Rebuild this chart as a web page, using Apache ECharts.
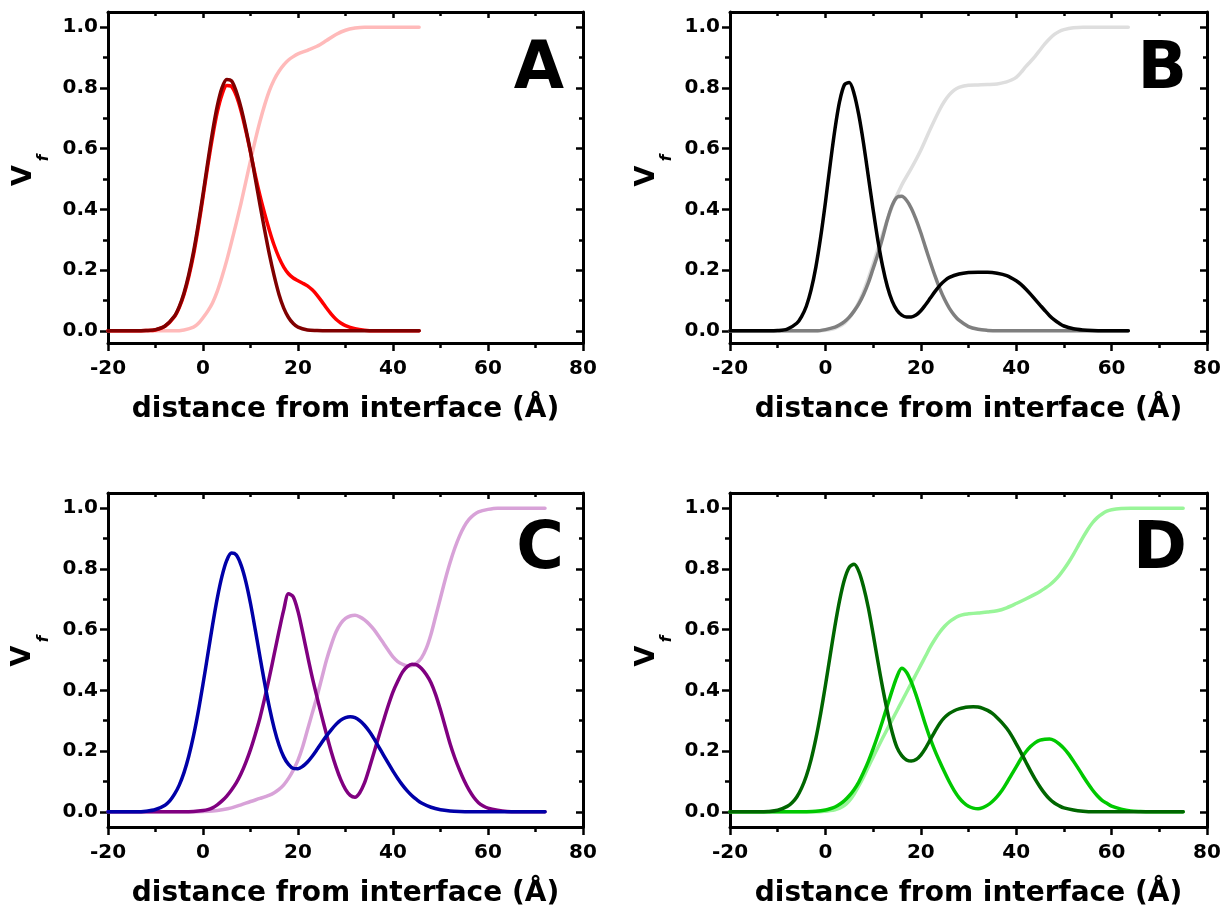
<!DOCTYPE html>
<html>
<head>
<meta charset="utf-8">
<title>Volume fraction profiles</title>
<script src="https://cdn.jsdelivr.net/npm/echarts@6/dist/echarts.min.js"></script>
<style>
  html, body { margin: 0; padding: 0; background: #ffffff; }
  #chart { width: 1223px; height: 905px; }
</style>
</head>
<body>
<div id="chart"></div>
<script>
// ---- data: [distance from interface (Å), volume fraction] ----
// Panel A
const aLight = [[-20,0],[-6,0],[-4,0.003],[-2,0.012],[-1,0.024],[0,0.043],[1,0.065],[2,0.092],[3,0.13],[4,0.178],[5,0.232],[6,0.292],[7,0.355],[8,0.42],[9,0.49],[10,0.56],[11,0.628],[12,0.69],[13,0.745],[14,0.792],[15,0.828],[16,0.855],[17,0.876],[18,0.892],[19,0.903],[20,0.912],[22,0.924],[24,0.937],[26,0.956],[28,0.976],[30,0.99],[32,0.997],[34,1],[45.5,1]];
const aMid = [[-20,0],[-14,0],[-12,0.001],[-10,0.003],[-8,0.015],[-6,0.047],[-5,0.077],[-4,0.12],[-3,0.178],[-2,0.25],[-1,0.34],[0,0.44],[1,0.543],[2,0.638],[3,0.72],[4,0.778],[5,0.808],[6,0.805],[7,0.775],[8,0.725],[9,0.66],[10,0.588],[11,0.513],[12,0.445],[13,0.385],[14,0.33],[15,0.281],[16,0.241],[17,0.21],[18,0.188],[19,0.174],[20,0.165],[21,0.157],[22,0.148],[23,0.135],[24,0.118],[25,0.097],[26,0.075],[27,0.055],[28,0.038],[29,0.026],[30,0.017],[32,0.007],[34,0.002],[36,0],[45.5,0]];
const aDark = [[-20,0],[-14,0],[-12,0.001],[-10,0.004],[-8,0.016],[-6,0.049],[-5,0.08],[-4,0.125],[-3,0.185],[-2,0.26],[-1,0.35],[0,0.45],[1,0.555],[2,0.655],[3,0.74],[4,0.8],[5,0.828],[6,0.823],[7,0.788],[8,0.735],[9,0.667],[10,0.59],[11,0.503],[12,0.415],[13,0.33],[14,0.25],[15,0.18],[16,0.12],[17,0.075],[18,0.044],[19,0.024],[20,0.012],[22,0.003],[24,0.001],[26,0],[45.5,0]];

// Panel B
const bLight = [[-20,0],[-2,0],[0,0.002],[2,0.008],[4,0.025],[6,0.065],[8,0.13],[10,0.22],[12,0.32],[14,0.41],[16,0.48],[18,0.535],[20,0.595],[22,0.665],[24,0.73],[25,0.757],[26,0.778],[27,0.793],[28,0.802],[30,0.809],[32,0.81],[34,0.811],[36,0.813],[38,0.82],[39,0.826],[40,0.835],[41,0.851],[42,0.87],[43,0.887],[44,0.905],[45,0.925],[46,0.945],[47,0.962],[48,0.976],[49,0.986],[50,0.992],[52,0.998],[54,1],[63.5,1]];
const bMid = [[-20,0],[-2,0],[0,0.004],[2,0.012],[3,0.02],[4,0.03],[5,0.045],[6,0.065],[7,0.089],[8,0.12],[9,0.158],[10,0.205],[11,0.252],[12,0.307],[13,0.366],[14,0.413],[15,0.44],[16,0.443],[17,0.43],[18,0.404],[19,0.367],[20,0.323],[21,0.274],[22,0.226],[23,0.18],[24,0.138],[25,0.103],[26,0.074],[27,0.052],[28,0.035],[30,0.014],[32,0.005],[34,0.0015],[36,0],[63.5,0]];
const bDark = [[-20,0],[-12,0],[-10,0.001],[-8,0.006],[-6,0.025],[-5,0.047],[-4,0.081],[-3,0.135],[-2,0.21],[-1,0.308],[0,0.423],[1,0.547],[2,0.664],[3,0.757],[4,0.811],[5,0.818],[6,0.782],[7,0.711],[8,0.617],[9,0.508],[10,0.4],[11,0.298],[12,0.212],[13,0.145],[14,0.098],[15,0.068],[16,0.052],[17,0.046],[18,0.046],[19,0.052],[20,0.066],[21,0.086],[22,0.108],[23,0.13],[24,0.15],[25,0.165],[26,0.176],[28,0.187],[30,0.192],[32,0.193],[34,0.193],[36,0.19],[38,0.182],[40,0.165],[41,0.153],[42,0.138],[43,0.121],[44,0.103],[45,0.085],[46,0.067],[47,0.05],[48,0.036],[49,0.025],[50,0.016],[52,0.007],[54,0.003],[56,0.001],[58,0],[63.5,0]];

// Panel C
const cLight = [[-20,0],[-2,0],[0,0.001],[2,0.003],[4,0.007],[6,0.013],[8,0.023],[10,0.034],[12,0.044],[14,0.055],[15,0.063],[16,0.074],[17,0.089],[18,0.11],[19,0.137],[20,0.17],[21,0.215],[22,0.27],[23,0.325],[24,0.38],[25,0.44],[26,0.5],[27,0.55],[28,0.592],[29,0.62],[30,0.637],[31,0.645],[32,0.647],[33,0.642],[34,0.632],[35,0.618],[36,0.6],[37,0.578],[38,0.555],[39,0.532],[40,0.51],[41,0.495],[42,0.486],[43,0.481],[44,0.482],[45,0.49],[46,0.507],[47,0.538],[48,0.585],[49,0.645],[50,0.705],[51,0.765],[52,0.82],[53,0.868],[54,0.908],[55,0.94],[56,0.963],[57,0.978],[58,0.988],[60,0.996],[62,1],[72,1]];
const cMid = [[-20,0],[-4,0],[-2,0.001],[0,0.004],[1,0.007],[2,0.013],[3,0.023],[4,0.036],[5,0.052],[6,0.072],[7,0.095],[8,0.125],[9,0.162],[10,0.205],[11,0.255],[12,0.31],[13,0.375],[14,0.445],[15,0.52],[16,0.595],[17,0.665],[18,0.718],[19,0.708],[20,0.66],[21,0.59],[22,0.515],[23,0.443],[24,0.378],[25,0.315],[26,0.255],[27,0.198],[28,0.148],[29,0.106],[30,0.074],[31,0.054],[32,0.048],[33,0.063],[34,0.095],[35,0.143],[36,0.195],[37,0.248],[38,0.3],[39,0.35],[40,0.395],[41,0.43],[42,0.46],[43,0.478],[44,0.486],[45,0.484],[46,0.472],[47,0.452],[48,0.425],[49,0.385],[50,0.335],[51,0.28],[52,0.225],[53,0.178],[54,0.138],[55,0.102],[56,0.072],[57,0.048],[58,0.03],[59,0.019],[60,0.012],[62,0.005],[64,0.001],[66,0],[72,0]];
const cDark = [[-20,0],[-14,0],[-12,0.002],[-10,0.0075],[-8,0.022],[-7,0.036],[-6,0.058],[-5,0.088],[-4,0.129],[-3,0.183],[-2,0.25],[-1,0.33],[0,0.421],[1,0.517],[2,0.614],[3,0.703],[4,0.776],[5,0.828],[6,0.852],[7,0.846],[8,0.813],[9,0.759],[10,0.686],[11,0.6],[12,0.51],[13,0.422],[14,0.342],[15,0.274],[16,0.22],[17,0.181],[18,0.156],[19,0.143],[20,0.142],[21,0.15],[22,0.164],[23,0.183],[24,0.205],[25,0.228],[26,0.25],[27,0.27],[28,0.288],[29,0.302],[30,0.31],[31,0.313],[32,0.31],[33,0.3],[34,0.285],[35,0.265],[36,0.241],[37,0.214],[38,0.187],[39,0.16],[40,0.134],[41,0.11],[42,0.088],[43,0.069],[44,0.053],[45,0.04],[46,0.029],[48,0.015],[50,0.007],[52,0.003],[54,0.001],[56,0],[72,0]];

// Panel D
const dLight = [[-20,0],[-2,0],[0,0.002],[1,0.004],[2,0.007],[3,0.012],[4,0.021],[5,0.036],[6,0.058],[7,0.085],[8,0.115],[9,0.148],[10,0.18],[11,0.212],[12,0.243],[13,0.273],[14,0.303],[15,0.333],[16,0.363],[17,0.393],[18,0.423],[19,0.453],[20,0.483],[21,0.513],[22,0.543],[23,0.569],[24,0.592],[25,0.611],[26,0.626],[27,0.637],[28,0.645],[29,0.65],[30,0.652],[32,0.655],[34,0.658],[36,0.662],[38,0.672],[40,0.686],[42,0.701],[44,0.717],[45,0.726],[46,0.736],[47,0.747],[48,0.761],[49,0.778],[50,0.799],[51,0.822],[52,0.848],[53,0.876],[54,0.904],[55,0.93],[56,0.952],[57,0.969],[58,0.981],[59,0.99],[60,0.995],[62,0.999],[64,1],[75,1]];
const dMid = [[-20,0],[-6,0],[-4,0.0005],[-2,0.002],[0,0.006],[1,0.01],[2,0.016],[3,0.025],[4,0.037],[5,0.053],[6,0.073],[7,0.098],[8,0.13],[9,0.166],[10,0.207],[11,0.252],[12,0.3],[13,0.35],[14,0.4],[15,0.445],[16,0.473],[17,0.46],[18,0.428],[19,0.385],[20,0.336],[21,0.286],[22,0.24],[23,0.2],[24,0.164],[25,0.13],[26,0.098],[27,0.07],[28,0.047],[29,0.03],[30,0.018],[31,0.012],[32,0.01],[33,0.014],[34,0.022],[35,0.034],[36,0.05],[37,0.07],[38,0.095],[39,0.122],[40,0.148],[41,0.175],[42,0.197],[43,0.215],[44,0.228],[45,0.236],[46,0.239],[47,0.24],[48,0.235],[49,0.224],[50,0.209],[51,0.19],[52,0.167],[53,0.143],[54,0.118],[55,0.094],[56,0.072],[57,0.053],[58,0.038],[59,0.028],[60,0.019],[62,0.009],[64,0.003],[66,0.001],[68,0],[75,0]];
const dDark = [[-20,0],[-14,0],[-12,0.001],[-10,0.005],[-8,0.018],[-7,0.03],[-6,0.049],[-5,0.078],[-4,0.118],[-3,0.172],[-2,0.241],[-1,0.323],[0,0.416],[1,0.515],[2,0.612],[3,0.698],[4,0.765],[5,0.805],[6,0.815],[7,0.792],[8,0.741],[9,0.672],[10,0.586],[11,0.495],[12,0.408],[13,0.33],[14,0.262],[15,0.212],[16,0.185],[17,0.171],[18,0.167],[19,0.172],[20,0.187],[21,0.21],[22,0.238],[23,0.266],[24,0.292],[25,0.311],[26,0.324],[27,0.333],[28,0.339],[29,0.343],[30,0.345],[31,0.346],[32,0.345],[33,0.341],[34,0.334],[35,0.324],[36,0.31],[37,0.294],[38,0.275],[39,0.252],[40,0.224],[41,0.195],[42,0.165],[43,0.135],[44,0.107],[45,0.082],[46,0.06],[47,0.042],[48,0.029],[49,0.02],[50,0.013],[52,0.006],[54,0.002],[56,0],[75,0]];

// ---- tick values and text ----
const yMajorTicks = [0, 0.2, 0.4, 0.6, 0.8, 1.0];
const yMinorTicks = [0.1, 0.3, 0.5, 0.7, 0.9];
const xTitle = 'distance from interface (Å)';
const yTitleMain = 'V';
const yTitleSub = 'f';
const panelLetters = ['A', 'B', 'C', 'D'];

// ---- layout and styling ----
const FONT = '"DejaVu Sans", "Liberation Sans", Arial, sans-serif';
const BLACK = '#000000';

const panels = [
  { grid: { left: 108, top: 12,  width: 475, height: 331 }, ymin: -0.04,
    lines: [[aLight, '#ffbaba'], [aMid, '#ff0000'], [aDark, '#800000']],
    letterAt: [564, 71], vAt: [23.5, 175.5], fAt: [44, 158] },
  { grid: { left: 730, top: 12,  width: 477, height: 331 }, ymin: -0.04,
    lines: [[bLight, '#dedede'], [bMid, '#7f7f7f'], [bDark, '#000000']],
    letterAt: [1187, 71], vAt: [647, 176], fAt: [667.5, 158] },
  { grid: { left: 108, top: 493, width: 475, height: 334 }, ymin: -0.05,
    lines: [[cLight, '#d8a2d8'], [cMid, '#800080'], [cDark, '#0000a8']],
    letterAt: [564, 551], vAt: [23, 656], fAt: [44, 639] },
  { grid: { left: 730, top: 493, width: 477, height: 334 }, ymin: -0.05,
    lines: [[dLight, '#99f599'], [dMid, '#00c800'], [dDark, '#006600']],
    letterAt: [1187, 551], vAt: [647, 656], fAt: [667.5, 639] }
];

const axisLineStyle = { color: BLACK, width: 3 };
const tickLineStyle = { color: BLACK, width: 2.5 };
const tickFont = { fontFamily: FONT, fontWeight: 'bold', fontSize: 20, color: BLACK };

function xAxisBottom(g) {
  return {
    gridIndex: g, type: 'value', position: 'bottom', min: -20, max: 80, interval: 20,
    axisLine: { show: true, onZero: false, lineStyle: axisLineStyle },
    axisTick: { show: true, inside: false, length: 8, lineStyle: tickLineStyle },
    minorTick: { show: true, splitNumber: 2, length: 5, lineStyle: tickLineStyle },
    axisLabel: Object.assign({ show: true, margin: 16, showMinLabel: true, showMaxLabel: true, hideOverlap: false }, tickFont),
    splitLine: { show: false }, minorSplitLine: { show: false },
    name: xTitle, nameLocation: 'middle', nameGap: 53, nameMoveOverlap: false,
    nameTextStyle: { fontFamily: FONT, fontWeight: 'bold', fontSize: 28, color: BLACK }
  };
}
function xAxisTop(g) {
  return {
    gridIndex: g, type: 'value', position: 'top', min: -20, max: 80, interval: 20,
    axisLine: { show: true, onZero: false, lineStyle: axisLineStyle },
    axisTick: { show: true, inside: true, length: 6, lineStyle: tickLineStyle },
    minorTick: { show: true, splitNumber: 2, length: 4, lineStyle: tickLineStyle },
    axisLabel: { show: false },
    splitLine: { show: false }, minorSplitLine: { show: false }
  };
}
function yAxisSide(g, ymin, side, major) {
  const outer = side === 'left';
  const ticks = major ? yMajorTicks : yMinorTicks;
  const len = outer ? (major ? 8 : 5) : (major ? 7 : 4);
  return {
    gridIndex: g, type: 'value', position: side, min: ymin, max: 1.05,
    axisLine: { show: major, onZero: false, lineStyle: axisLineStyle },
    axisTick: { show: true, inside: !outer, length: len, customValues: ticks, lineStyle: tickLineStyle },
    axisLabel: (outer && major)
      ? Object.assign({ show: true, margin: 10, customValues: yMajorTicks,
          formatter: v => Number(v).toFixed(1) }, tickFont)
      : { show: false },
    splitLine: { show: false }, minorTick: { show: false }, minorSplitLine: { show: false }
  };
}

const option = {
  animation: false,
  backgroundColor: '#ffffff',
  grid: [], xAxis: [], yAxis: [], series: [], graphic: []
};

panels.forEach((p, g) => {
  option.grid.push(Object.assign({ containLabel: false, outerBoundsMode: 'none' }, p.grid));
  option.xAxis.push(xAxisBottom(g), xAxisTop(g));
  option.yAxis.push(
    yAxisSide(g, p.ymin, 'left', true),
    yAxisSide(g, p.ymin, 'left', false),
    yAxisSide(g, p.ymin, 'right', true),
    yAxisSide(g, p.ymin, 'right', false)
  );
  p.lines.forEach(([pts, color], k) => {
    option.series.push({
      type: 'line', xAxisIndex: 2 * g, yAxisIndex: 4 * g,
      data: pts,
      showSymbol: false, symbol: 'none', smooth: 0.3, silent: true, z: 2 + k,
      itemStyle: { color: color },
      lineStyle: { color: color, width: 3.5, cap: 'round', join: 'round' }
    });
  });
  option.graphic.push(
    { type: 'text', x: p.letterAt[0], y: p.letterAt[1], silent: true,
      style: { text: panelLetters[g], fill: BLACK, align: 'right', verticalAlign: 'middle',
               fontFamily: FONT, fontWeight: 'bold', fontSize: 65 } },
    { type: 'text', x: p.vAt[0], y: p.vAt[1], rotation: Math.PI / 2, silent: true,
      style: { text: yTitleMain, fill: BLACK, align: 'center', verticalAlign: 'middle',
               fontFamily: FONT, fontWeight: 'bold', fontSize: 27 } },
    { type: 'text', x: p.fAt[0], y: p.fAt[1], rotation: Math.PI / 2, silent: true,
      style: { text: yTitleSub, fill: BLACK, align: 'center', verticalAlign: 'middle',
               fontFamily: FONT, fontWeight: 'bold', fontStyle: 'italic', fontSize: 15 } }
  );
});

const chart = echarts.init(document.getElementById('chart'), null, { renderer: 'canvas' });
chart.setOption(option);
</script>
</body>
</html>
